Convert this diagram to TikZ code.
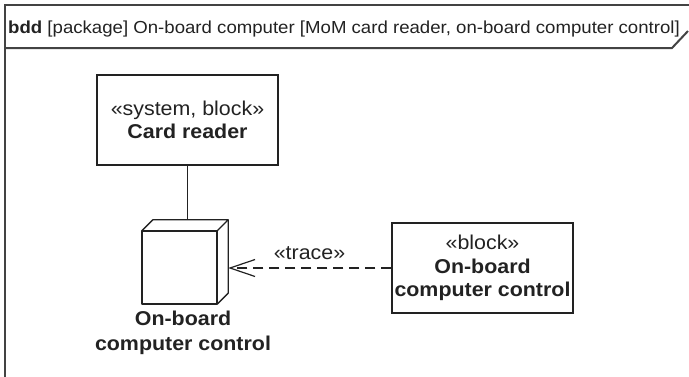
\documentclass[tikz,border=0pt]{standalone}
\usepackage{fontspec}
\setmainfont{Liberation Sans}[FakeStretch=1.07]
\usetikzlibrary{arrows.meta,calc}
\definecolor{ink}{HTML}{222222}
\tikzset{
  frameline/.style={draw=ink!85, line width=2pt},
  blockbox/.style={draw=ink, line width=1.3pt, rectangle, minimum width=181pt, minimum height=90pt, inner sep=0pt, align=center, font=\fontsize{20}{23.5}\selectfont, text=ink},
  cubebox/.style={rectangle, minimum width=86pt, minimum height=84pt, inner sep=0pt},
  cubeface/.style={draw=ink, line width=1.3pt, line join=round},
  cubefront/.style={draw=ink, line width=2pt, line join=round},
  lbl/.style={align=center, font=\fontsize{20}{24.5}\selectfont\bfseries, text=ink, inner sep=0pt},
  tracelbl/.style={font=\fontsize{20}{22}\selectfont, text=ink, inner sep=0pt},
  assoc/.style={draw=ink, line width=1.2pt},
  traceline/.style={draw=ink, line width=1.2pt, dash pattern=on 10pt off 6pt, -{Straight Barb[length=25pt,width=17pt,line width=1.2pt]}},
}
\begin{document}
\begin{tikzpicture}[x=1pt,y=-1pt]
\useasboundingbox (0,0) rectangle (689,376);
\begin{scope}
\clip (0,0) rectangle (689,376);
% frame
\draw[frameline] (5,380) -- (5,5) -- (692,5);
\draw[frameline] (5,48) -- (672,48) -- (688,31);
\node[anchor=west, inner sep=0pt, font=\fontsize{17.4}{20}\selectfont, text=ink] (hdr) at (8,29) {\textbf{bdd} [package] On-board computer [MoM card reader, on-board computer control]};
\end{scope}
% card reader
\node[blockbox] (cr) at (187.5,120) {«system, block»\\\textbf{Card reader}};
% cube
\node[cubebox] (cube) at (185,262) {};
\coordinate (fnw) at ($(cube.north west)+(0,11)$);
\coordinate (fse) at ($(cube.south east)+(-11,0)$);
\coordinate (fne) at (fse |- fnw);
\coordinate (bnw) at ($(cube.north west)+(11,0)$);
\coordinate (bne) at (cube.north east);
\coordinate (bse) at ($(cube.south east)+(0,-11)$);
\draw[cubeface] (fnw) -- (bnw) -- (bne) -- (fne);
\draw[cubeface] (bne) -- (bse) -- (fse);
\draw[cubefront] (fnw) rectangle (fse);
\node[lbl] (cubelbl) at (183,333) {On-board\\computer control};
% right block
\node[blockbox] (ctl) at (482.5,268) {«block»\\\textbf{On-board}\\\textbf{computer control}};
% connectors
\draw[assoc] (cr.south) -- (cr.south |- cube.north);
\draw[traceline] (ctl.west) -- (ctl.west -| cube.east);
\node[tracelbl] (tr) at (309.5,253) {«trace»};
\end{tikzpicture}
\end{document}
